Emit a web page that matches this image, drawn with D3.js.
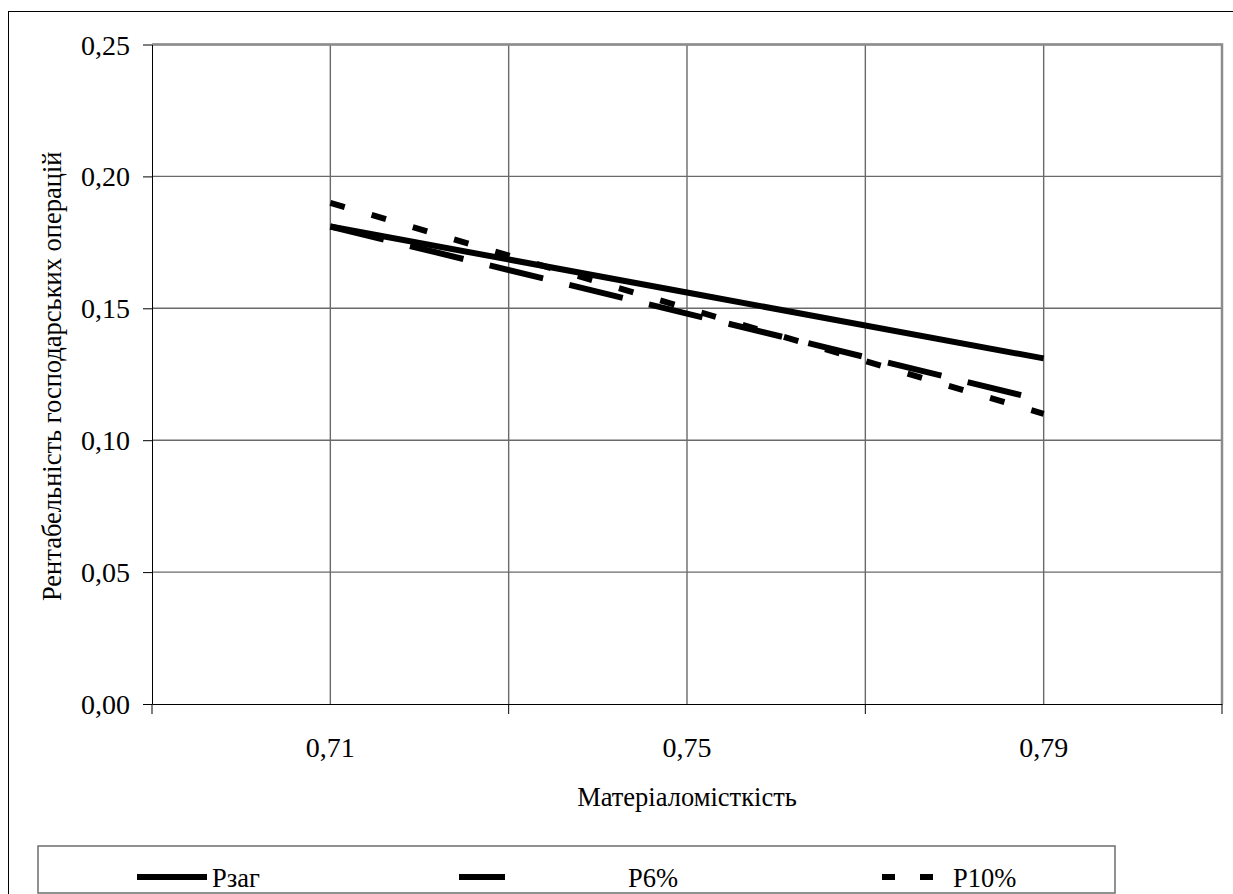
<!DOCTYPE html>
<html>
<head>
<meta charset="utf-8">
<script src="https://cdn.jsdelivr.net/npm/d3@7"></script>
<style>
  html, body { margin: 0; padding: 0; background: #fff; }
  svg { display: block; }
  text { font-family: "Liberation Serif", "Times New Roman", serif; fill: #000; }
</style>
</head>
<body>
<svg id="chart" width="1233" height="894"></svg>
<script>
// Material intensity (x categories) and profitability series
const categories = ["0,71", "0,75", "0,79"];
const pZag = [0.181, 0.156, 0.131];
const p6 = [0.181, 0.148, 0.115];
const p10 = [0.190, 0.150, 0.110];
const yTicks = [0, 0.05, 0.10, 0.15, 0.20, 0.25];
const seriesNames = ["Рзаг", "Р6%", "Р10%"];

const svg = d3.select("#chart");
const plot = { left: 152, right: 1222, top: 44.5, bottom: 704 };
const serif = "Liberation Serif";

// outer chart frame
svg.append("rect")
  .attr("x", 8.5).attr("y", 11.5)
  .attr("width", 1240).attr("height", 900)
  .attr("fill", "#fff").attr("stroke", "#000").attr("stroke-width", 1);

const x = d3.scaleBand().domain(categories).range([plot.left, plot.right]).paddingInner(0).paddingOuter(0);
const y = d3.scaleLinear().domain([0, 0.25]).range([plot.bottom, plot.top]);
const xc = c => x(c) + x.bandwidth() / 2;
const fmt = v => d3.format(".2f")(v).replace(".", ",");

const grid = svg.append("g");
// horizontal gridlines
grid.selectAll("line.h").data(yTicks.filter(t => t > 0)).join("line")
  .attr("x1", plot.left).attr("x2", plot.right)
  .attr("y1", d => y(d)).attr("y2", d => y(d))
  .attr("stroke", "#6a6a6a").attr("stroke-width", 1.4);
// vertical gridlines at category centres and boundaries
const vLines = [];
categories.forEach((c, i) => { vLines.push(xc(c)); if (i > 0) vLines.push(x(c)); });
grid.selectAll("line.v").data(vLines).join("line")
  .attr("x1", d => d).attr("x2", d => d)
  .attr("y1", plot.top).attr("y2", plot.bottom)
  .attr("stroke", "#6a6a6a").attr("stroke-width", 1.4);

// plot-area border (top and right)
svg.append("path")
  .attr("d", `M${plot.left},${plot.top}H${plot.right}V${plot.bottom}`)
  .attr("fill", "none").attr("stroke", "#8c8c8c").attr("stroke-width", 2.5);

// y axis
const yAxis = svg.append("g").attr("transform", `translate(${plot.left},0)`)
  .call(d3.axisLeft(y).tickValues(yTicks).tickFormat(fmt).tickSize(9).tickSizeOuter(0));
yAxis.select(".domain").attr("stroke", "#000");
yAxis.selectAll(".tick line").attr("stroke", "#000");
yAxis.selectAll(".tick text")
  .attr("x", -22).attr("dy", "0.34em")
  .style("font-family", serif).style("font-size", "28px");

// x axis: labels at category centres, tick marks at boundaries
const xAxis = svg.append("g").attr("transform", `translate(0,${plot.bottom})`)
  .call(d3.axisBottom(x).tickSize(0).tickSizeOuter(0));
xAxis.select(".domain").attr("stroke", "#000");
xAxis.selectAll(".tick text")
  .attr("y", 53).attr("dy", 0)
  .style("font-family", serif).style("font-size", "28px");
const bounds = [plot.left, ...categories.slice(1).map(c => x(c)), plot.right];
xAxis.selectAll("line.bt").data(bounds).join("line")
  .attr("x1", d => d).attr("x2", d => d).attr("y1", 0).attr("y2", 10)
  .attr("stroke", "#000");

// axis titles
svg.append("text")
  .attr("x", (plot.left + plot.right) / 2).attr("y", 806)
  .attr("text-anchor", "middle").style("font-family", serif).style("font-size", "26.5px")
  .text("Матеріаломісткість");
svg.append("text")
  .attr("transform", `translate(61,${(plot.top + plot.bottom) / 2 + 2}) rotate(-90)`)
  .attr("text-anchor", "middle").style("font-family", serif).style("font-size", "26.5px")
  .text("Рентабельність господарських операцій");

// series lines
const line = d3.line().x((d, i) => xc(categories[i])).y(d => y(d));
const styles = [
  { data: pZag, dash: null },
  { data: p6, dash: "55,27" },
  { data: p10, dash: "15,28" }
];
styles.forEach(s => {
  svg.append("path").datum(s.data)
    .attr("d", line)
    .attr("fill", "none").attr("stroke", "#000").attr("stroke-width", 6)
    .attr("stroke-dasharray", s.dash);
});

// legend
const lg = svg.append("g");
lg.append("rect")
  .attr("x", 38).attr("y", 846).attr("width", 1077).attr("height", 47)
  .attr("fill", "#fff").attr("stroke", "#6e6e6e").attr("stroke-width", 1.5);
const legendItems = [
  { x0: 137, x1: 207, tx: 212, dash: null },
  { x0: 459, x1: 529, tx: 628, dash: "46,24" },
  { x0: 882, x1: 934, tx: 953, dash: "13,25" }
];
legendItems.forEach((it, i) => {
  lg.append("line")
    .attr("x1", it.x0).attr("x2", it.x1).attr("y1", 877).attr("y2", 877)
    .attr("stroke", "#000").attr("stroke-width", 6)
    .attr("stroke-dasharray", it.dash);
  lg.append("text")
    .attr("x", it.tx).attr("y", 887)
    .style("font-family", serif).style("font-size", "26.5px")
    .text(seriesNames[i]);
});
</script>
</body>
</html>
